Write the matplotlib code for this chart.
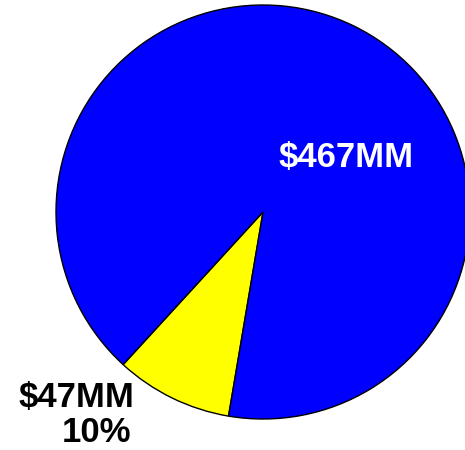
import matplotlib
matplotlib.use("Agg")
import matplotlib.pyplot as plt

categories = ["Small", "Large"]
values = [47, 467]
value_labels = ["$47MM", "$467MM"]
pct_labels = ["10%", ""]
colors = ["#FFFF00", "#0000FF"]

W, H = 465, 450
fig = plt.figure(figsize=(W / 100, H / 100), dpi=100)
ax = fig.add_axes([0, 0, 1, 1])
ax.pie(values, colors=colors, startangle=227.5, counterclock=True,
       center=(263, 450 - 212), radius=207,
       wedgeprops=dict(edgecolor="black", linewidth=1.0))
ax.set_xlim(0, W)
ax.set_ylim(0, H)
ax.set_aspect("equal")
ax.axis("off")

font = dict(family=["Liberation Sans", "DejaVu Sans"], fontweight="bold", fontsize=25)
ax.text(346, 450 - 157, value_labels[1], color="white", ha="center", va="center", **font)
ax.text(134, 450 - 398, value_labels[0], color="black", ha="right", va="center", **font)
ax.text(131, 450 - 432, pct_labels[0], color="black", ha="right", va="center", **font)

fig.savefig("out.png", dpi=100)
